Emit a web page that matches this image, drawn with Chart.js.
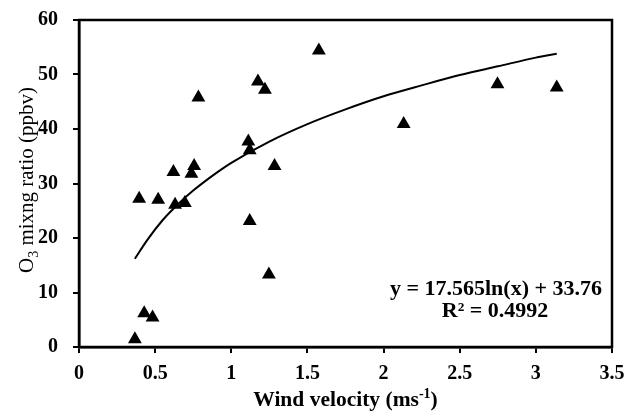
<!DOCTYPE html>
<html>
<head>
<meta charset="utf-8">
<script src="https://cdn.jsdelivr.net/npm/chart.js@4.4.1/dist/chart.umd.min.js"></script>
<style>
  html, body { margin: 0; padding: 0; background: #fff; }
  #wrap { width: 629px; height: 414px; position: relative; }
</style>
</head>
<body>
<div id="wrap"><canvas id="c"></canvas></div>
<script>
// observed wind velocity (m/s) and O3 mixing ratio (ppbv)
const windVel = [1.575, 1.175, 1.221, 0.784, 1.112, 1.121, 1.284, 0.62, 0.756, 0.738, 0.395,
                 0.52, 0.631, 0.695, 1.121, 1.247, 0.428, 0.483, 0.367, 2.132, 2.748, 3.137];
const o3Ratio = [54.4, 48.7, 47.2, 45.8, 37.7, 36.1, 33.2, 32.1, 33.2, 31.8, 27.2,
                 27.0, 26.1, 26.4, 23.1, 13.3, 6.2, 5.4, 1.4, 40.9, 48.2, 47.6];

// log trend line
const trendX = [0.367, 0.45, 0.55, 0.65, 0.75, 0.9, 1.0, 1.25, 1.5, 1.75, 2.0, 2.25, 2.5, 2.75, 3.0, 3.137];
const trendY = [16.2, 19.7, 23.3, 26.2, 28.7, 31.9, 33.8, 37.7, 40.9, 43.6, 46.0, 48.0, 49.9, 51.5, 53.1, 53.8];

const xTicks = [0, 0.5, 1, 1.5, 2, 2.5, 3, 3.5];
const yTicks = [0, 10, 20, 30, 40, 50, 60];

const eqLine1 = 'y = 17.565ln(x) + 33.76';
const eqLine2 = 'R\u00b2 = 0.4992';

const FONT = '"Liberation Serif", "Times New Roman", serif';

const pts = windVel.map((x, i) => ({ x: x, y: o3Ratio[i] }));
const trend = trendX.map((x, i) => ({ x: x, y: trendY[i] }));

// frame + axis titles + equation
const extras = {
    id: 'extras',
    afterDraw(chart) {
        const ctx = chart.ctx;
        const a = chart.chartArea;
        ctx.save();
        ctx.strokeStyle = '#000';
        ctx.lineWidth = 2.5;
        ctx.strokeRect(a.left, a.top, a.right - a.left, a.bottom - a.top);

        ctx.fillStyle = '#000';
        ctx.textBaseline = 'alphabetic';
        ctx.textAlign = 'left';

        // x title with superscript
        const big = 'bold 21.5px ' + FONT;
        const small = 'bold 14px ' + FONT;
        const xt1 = 'Wind velocity (ms';
        const xsup = '-1';
        const xt2 = ')';
        ctx.font = big;
        const w1 = ctx.measureText(xt1).width;
        const w3 = ctx.measureText(xt2).width;
        ctx.font = small;
        const w2 = ctx.measureText(xsup).width;
        const tx = (a.left + a.right) / 2 - (w1 + w2 + w3) / 2;
        const ty = 406;
        ctx.font = big;
        ctx.fillText(xt1, tx, ty);
        ctx.font = small;
        ctx.fillText(xsup, tx + w1, ty - 8);
        ctx.font = big;
        ctx.fillText(xt2, tx + w1 + w2, ty);

        // y title rotated with subscript
        ctx.save();
        ctx.translate(33, 180);
        ctx.rotate(-Math.PI / 2);
        const ybig = '21px ' + FONT;
        const ysmall = '14px ' + FONT;
        const ya = 'O';
        const yb = '3';
        const yc = ' mixng ratio (ppbv)';
        ctx.font = ybig;
        const wa = ctx.measureText(ya).width;
        const wc = ctx.measureText(yc).width;
        ctx.font = ysmall;
        const wb = ctx.measureText(yb).width;
        const yx = -(wa + wb + wc) / 2;
        ctx.font = ybig;
        ctx.fillText(ya, yx, 0);
        ctx.font = ysmall;
        ctx.fillText(yb, yx + wa, 5);
        ctx.font = ybig;
        ctx.fillText(yc, yx + wa + wb, 0);
        ctx.restore();

        // equation
        ctx.font = 'bold 22px ' + FONT;
        ctx.textAlign = 'center';
        ctx.fillText(eqLine1, 496, 295);
        ctx.fillText(eqLine2, 495, 317);
        ctx.restore();
    }
};

new Chart(document.getElementById('c'), {
    type: 'scatter',
    data: {
        datasets: [{
            label: 'O3',
            data: pts,
            pointStyle: 'triangle',
            pointRadius: 8,
            pointHoverRadius: 8,
            backgroundColor: '#000',
            borderColor: '#000',
            borderWidth: 0
        }, {
            label: 'trend',
            type: 'line',
            data: trend,
            showLine: true,
            pointRadius: 0,
            borderColor: '#000',
            borderWidth: 2,
            cubicInterpolationMode: 'monotone',
            fill: false
        }]
    },
    options: {
        responsive: true,
        maintainAspectRatio: false,
        animation: false,
        layout: { padding: { left: 0, top: 20, right: 17, bottom: 0 } },
        plugins: {
            legend: { display: false },
            tooltip: { enabled: false }
        },
        scales: {
            x: {
                type: 'linear',
                min: 0,
                max: 3.5,
                afterBuildTicks: s => { s.ticks = xTicks.map(v => ({ value: v })); },
                // fixed axis height, and no extra label padding at the ends
                afterFit: s => { s.height = 67; s.paddingLeft = 0; s.paddingRight = 0; },
                grid: { drawOnChartArea: false, drawTicks: true, tickLength: 6, color: '#000', lineWidth: 2 },
                border: { color: '#000', width: 2.5 },
                ticks: {
                    color: '#000',
                    padding: 9,
                    maxRotation: 0,
                    callback: v => String(v),
                    font: { family: FONT, size: 20, weight: 'bold' }
                }
            },
            y: {
                type: 'linear',
                min: 0,
                max: 60,
                afterBuildTicks: s => { s.ticks = yTicks.map(v => ({ value: v })); },
                afterFit: s => { s.width = 79; s.paddingTop = 0; s.paddingBottom = 0; },
                grid: { drawOnChartArea: false, drawTicks: true, tickLength: 6, color: '#000', lineWidth: 2 },
                border: { color: '#000', width: 2.5 },
                ticks: {
                    color: '#000',
                    padding: 15,
                    callback: v => String(v),
                    font: { family: FONT, size: 20, weight: 'bold' }
                }
            }
        }
    },
    plugins: [extras]
});
</script>
</body>
</html>
